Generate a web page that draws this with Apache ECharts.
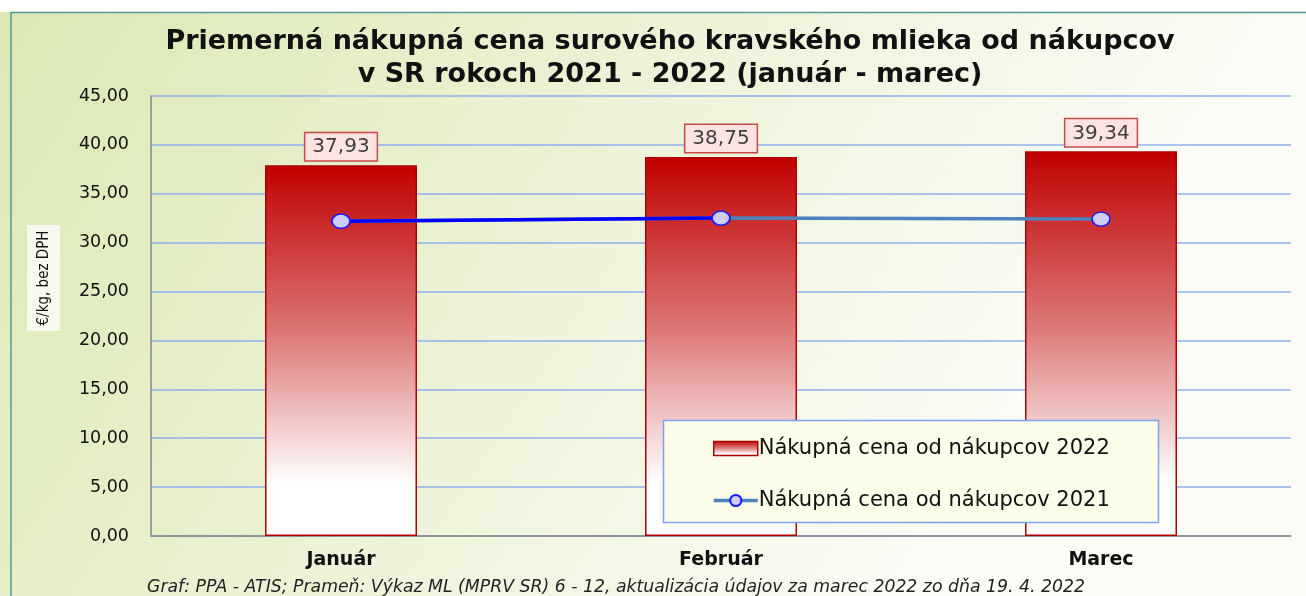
<!DOCTYPE html>
<html>
<head>
<meta charset="utf-8">
<script src="https://cdn.jsdelivr.net/npm/echarts@6/dist/echarts.min.js"></script>
<style>
  html, body { margin: 0; padding: 0; background: #fff; }
  #cv { width: 1306px; height: 596px; }
</style>
</head>
<body>
<div id="cv"></div>
<script>
    // data
    var mesiace = ['Január', 'Február', 'Marec'];
    var cena2022 = [37.93, 38.75, 39.34];
    var cena2021 = [32.20, 32.51, 32.41];
    var nazov2022 = 'Nákupná cena od nákupcov 2022';
    var nazov2021 = 'Nákupná cena od nákupcov 2021';

    function ciarka(v) {
        return v.toFixed(2).replace('.', ',');
    }

    // first segment of the 2021 line is drawn in pure blue in the original
    var prvyUsek = cena2021.map(function (v, i) { return i < 2 ? v : '-'; });

    var bod = {
        symbol: 'circle',
        symbolSize: [18, 14],
        itemStyle: { color: '#ccccff', borderColor: '#1a1aff', borderWidth: 1.5 }
    };

    var myChart = echarts.init(document.getElementById('cv'));
    var option = {
        backgroundColor: {
            type: 'linear', x: 0, y: 0, x2: 0.7, y2: 1,
            colorStops: [
                { offset: 0, color: '#dbe8b3' },
                { offset: 1, color: '#fbfcf6' }
            ]
        },
        animation: false,
        title: {
            text: 'Priemerná nákupná cena surového kravského mlieka od nákupcov\nv SR rokoch 2021 - 2022 (január - marec)',
            left: 665,
            top: 20,
            textAlign: 'center',
            textStyle: {
                fontFamily: 'DejaVu Sans',
                fontWeight: 'bold',
                fontSize: 27,
                lineHeight: 33,
                color: '#111'
            }
        },
        graphic: [
            { type: 'rect', shape: { x: 0, y: 0, width: 1306, height: 12 }, style: { fill: '#fff' } },
            { type: 'line', shape: { x1: 11, y1: 12.5, x2: 1306, y2: 12.5 }, style: { stroke: '#4e9c94', lineWidth: 1.5 } },
            { type: 'line', shape: { x1: 11, y1: 12, x2: 11, y2: 596 }, style: { stroke: '#4e9c94', lineWidth: 1.5 } },
            {
                type: 'rect', z: 10,
                shape: { x: 27, y: 225, width: 33, height: 106 },
                style: { fill: '#f7f9ee' }
            },
            {
                type: 'text', z: 11,
                x: 44, y: 278, rotation: Math.PI / 2,
                style: {
                    text: '€/kg, bez DPH',
                    font: '15px "DejaVu Sans Condensed"',
                    fill: '#111',
                    align: 'center',
                    verticalAlign: 'middle'
                }
            },
            {
                type: 'rect', z: 10,
                shape: { x: 663.5, y: 420.5, width: 495, height: 102 },
                style: { fill: '#fbfde9', stroke: '#7f9ff7', lineWidth: 1.5 }
            },
            {
                type: 'text', z: 11,
                x: 147, y: 579,
                style: {
                    text: 'Graf: PPA - ATIS; Prameň: Výkaz ML (MPRV SR) 6 - 12, aktualizácia údajov za marec 2022 zo dňa 19. 4. 2022',
                    font: 'italic 17.3px "DejaVu Sans"',
                    fill: '#222'
                }
            }
        ],
        legend: {
            data: [
                { name: nazov2022, icon: 'rect', itemStyle: { borderWidth: 1.5 } },
                { name: nazov2021, lineStyle: { width: 3.5 } }
            ],
            orient: 'vertical',
            left: 707,
            top: 433,
            z: 12,
            itemWidth: 44,
            itemHeight: 14,
            itemGap: 31,
            textStyle: {
                fontFamily: 'DejaVu Sans',
                fontSize: 21,
                color: '#111',
                padding: [0, 0, 0, -4]
            }
        },
        grid: {
            left: 151,
            right: 15,
            top: 96,
            bottom: 60
        },
        xAxis: {
            type: 'category',
            data: mesiace,
            axisLine: { lineStyle: { color: '#868686', width: 1.5 } },
            axisTick: { show: false },
            axisLabel: {
                margin: 15,
                fontFamily: 'DejaVu Sans',
                fontWeight: 'bold',
                fontSize: 19,
                color: '#111'
            }
        },
        yAxis: {
            type: 'value',
            min: 0,
            max: 45,
            interval: 5,
            axisLine: { show: true, lineStyle: { color: '#868686', width: 1.5 } },
            splitLine: { lineStyle: { color: '#8fb0ee', width: 1.5 } },
            axisLabel: {
                margin: 22,
                fontFamily: 'DejaVu Sans',
                fontSize: 17.5,
                color: '#111',
                formatter: function (v) { return ciarka(v); }
            }
        },
        series: [
            {
                name: nazov2022,
                type: 'bar',
                barWidth: '40%',
                data: cena2022,
                itemStyle: {
                    color: {
                        type: 'linear', x: 0, y: 0, x2: 0, y2: 1,
                        colorStops: [
                            { offset: 0, color: '#c00000' },
                            { offset: 0.45, color: '#dc7676' },
                            { offset: 0.86, color: '#ffffff' },
                            { offset: 1, color: '#ffffff' }
                        ]
                    },
                    borderColor: '#b00000',
                    borderWidth: 1.5
                },
                label: {
                    show: true,
                    position: 'top',
                    distance: 5,
                    formatter: function (p) { return ciarka(p.value); },
                    fontFamily: 'DejaVu Sans',
                    fontSize: 20,
                    color: '#404040',
                    backgroundColor: '#fde3e2',
                    borderColor: '#c84a48',
                    borderWidth: 1.5,
                    padding: [4, 7, 3, 7]
                }
            },
            {
                name: nazov2021,
                type: 'line',
                data: cena2021,
                z: 3,
                symbol: bod.symbol,
                symbolSize: bod.symbolSize,
                lineStyle: { color: '#4f81bd', width: 3.5 },
                itemStyle: bod.itemStyle
            },
            {
                name: 'prvy',
                type: 'line',
                data: prvyUsek,
                z: 4,
                symbol: bod.symbol,
                symbolSize: bod.symbolSize,
                silent: true,
                lineStyle: { color: '#0000ff', width: 3.5 },
                itemStyle: bod.itemStyle
            }
        ]
    };
    myChart.setOption(option);
</script>
</body>
</html>
